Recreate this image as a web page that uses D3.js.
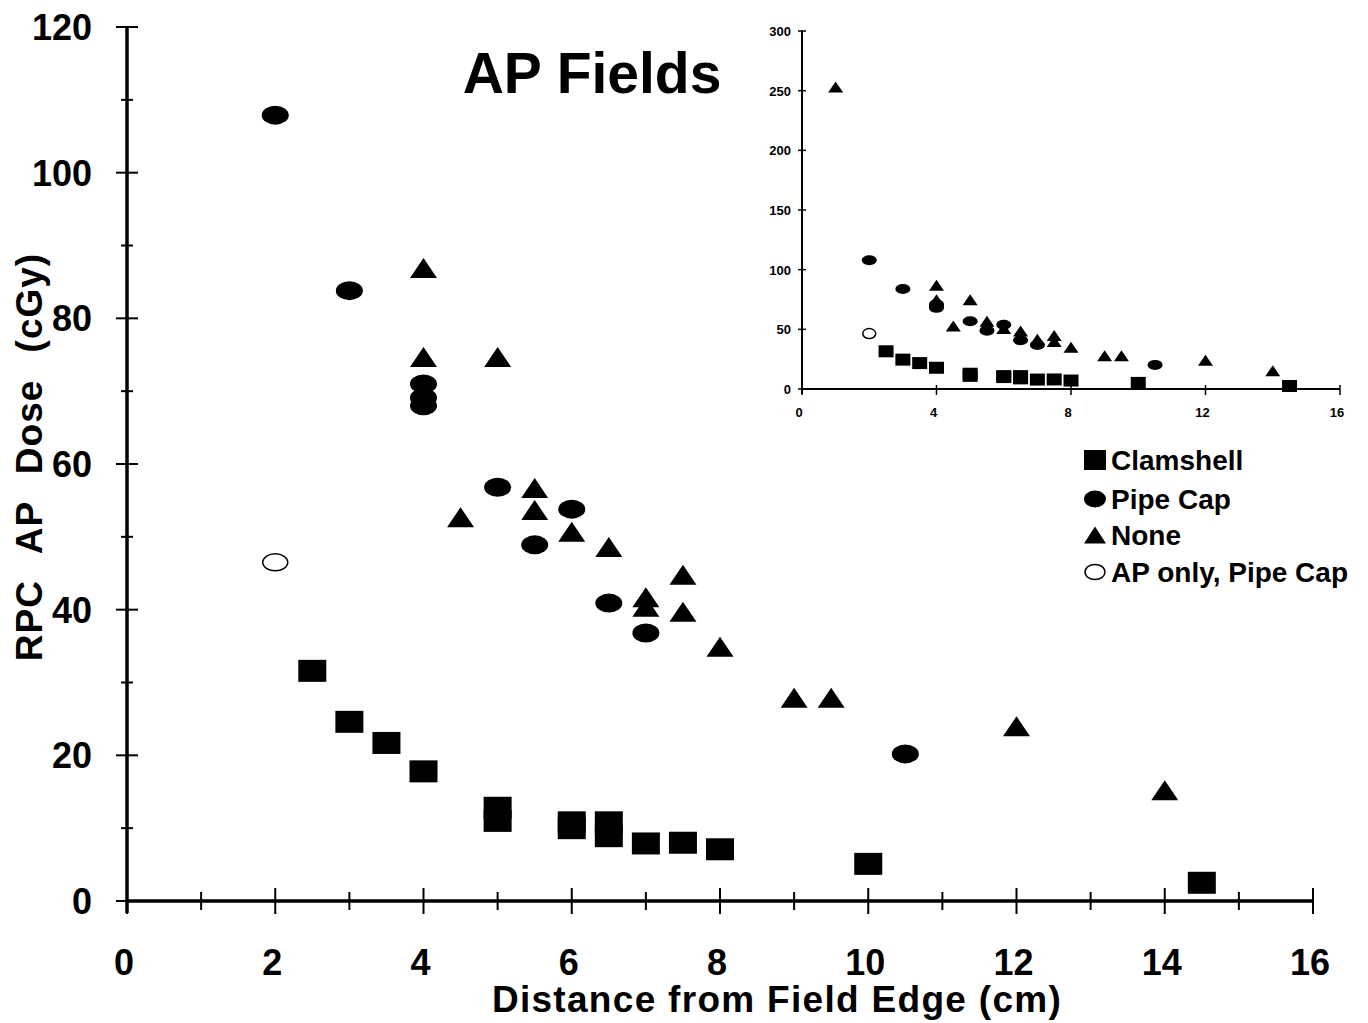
<!DOCTYPE html>
<html>
<head>
<meta charset="utf-8">
<script src="https://cdn.jsdelivr.net/npm/d3@7"></script>
<style>
  body { margin: 0; background: #fff; }
  text { font-family: "Liberation Sans", Arial, sans-serif; font-weight: bold; fill: #000; }
</style>
</head>
<body>
<div id="chart"></div>
<script>
// Data (distance in cm, dose in cGy)
const clamX = [2.5, 3, 3.5, 4, 5, 5, 6, 6, 6.5, 6.5, 7, 7.5, 8, 10, 14.5];
const clamY = [31.6, 24.6, 21.7, 17.8, 12.8, 11.0, 10.8, 10.0, 10.8, 8.9, 7.9, 8.0, 7.1, 5.1, 2.5];
const pipeX = [2, 3, 4, 4, 4, 5, 5.5, 6, 6.5, 7, 10.5];
const pipeY = [107.9, 83.8, 71.0, 69.1, 68.0, 56.8, 48.9, 53.8, 40.9, 36.8, 20.2];
const noneX = [1, 4, 4, 5, 4.5, 5.5, 5.5, 6, 6.5, 7.5, 7, 7, 7.5, 8, 9, 9.5, 12, 14];
const noneY = [253, 86.9, 74.7, 74.7, 52.7, 56.7, 53.7, 50.7, 48.6, 44.8, 41.7, 40.4, 39.7, 34.9, 27.9, 27.9, 24.0, 15.2];
const apOnlyX = [2];
const apOnlyY = [46.5];

const legendLabels = ["Clamshell", "Pipe Cap", "None", "AP only, Pipe Cap"];
const xTicks = [0, 2, 4, 6, 8, 10, 12, 14, 16];
const yTicks = [0, 20, 40, 60, 80, 100, 120];
const insetXTicks = [0, 4, 8, 12, 16];
const insetYTicks = [0, 50, 100, 150, 200, 250, 300];

const zip = (xs, ys) => xs.map((x, i) => ({ x: x, y: ys[i] }));
const series = [
  { name: legendLabels[0], shape: "square", pts: zip(clamX, clamY) },
  { name: legendLabels[1], shape: "circle", pts: zip(pipeX, pipeY) },
  { name: legendLabels[2], shape: "triangle", pts: zip(noneX, noneY) },
  { name: legendLabels[3], shape: "open", pts: zip(apOnlyX, apOnlyY) }
];

const width = 1368, height = 1023;
const svg = d3.select('#chart').append('svg')
  .attr('width', width)
  .attr('height', height);
svg.append('rect').attr('width', width).attr('height', height).attr('fill', '#fff');

// draw one marker of given shape, w x h, centred on (cx, cy)
function marker(g, shape, cx, cy, w, h) {
  if (shape === "square") {
    g.append('rect').attr('x', cx - w / 2).attr('y', cy - h / 2)
      .attr('width', w).attr('height', h).attr('fill', '#000');
  } else if (shape === "circle") {
    g.append('ellipse').attr('cx', cx).attr('cy', cy)
      .attr('rx', w / 2).attr('ry', h / 2).attr('fill', '#000');
  } else if (shape === "triangle") {
    const p = d3.path();
    p.moveTo(cx, cy - h / 2);
    p.lineTo(cx + w / 2, cy + h / 2);
    p.lineTo(cx - w / 2, cy + h / 2);
    p.closePath();
    g.append('path').attr('d', p.toString()).attr('fill', '#000');
  } else {
    g.append('ellipse').attr('cx', cx).attr('cy', cy)
      .attr('rx', w / 2 - 1).attr('ry', h / 2 - 1)
      .attr('fill', '#fff').attr('stroke', '#000').attr('stroke-width', 1.5);
  }
}

const markSize = {
  square: [28, 22], circle: [27, 19], triangle: [27, 20], open: [27, 19]
};

// ---- main chart ----
const x = d3.scaleLinear().domain([0, 16]).range([127, 1313]);
const y = d3.scaleLinear().domain([0, 120]).range([901, 27]);

const axes = svg.append('g');
// x axis line + ticks (crossing)
axes.append('line').attr('x1', x(0)).attr('x2', x(16)).attr('y1', y(0)).attr('y2', y(0))
  .attr('stroke', '#000').attr('stroke-width', 3.5);
d3.range(0, 17).forEach(v => {
  const major = v % 2 === 0;
  const len = major ? 13 : 9;
  axes.append('line').attr('x1', x(v)).attr('x2', x(v))
    .attr('y1', y(0) - len).attr('y2', y(0) + len)
    .attr('stroke', '#000').attr('stroke-width', 2);
});
axes.append('line').attr('x1', x(0)).attr('x2', x(0)).attr('y1', y(0) + 12).attr('y2', y(120))
  .attr('stroke', '#000').attr('stroke-width', 3.5);
d3.range(0, 121, 10).forEach(v => {
  const major = v % 20 === 0;
  const len = major ? 11 : 6;
  axes.append('line').attr('x1', x(0) - len).attr('x2', x(0) + len)
    .attr('y1', y(v)).attr('y2', y(v))
    .attr('stroke', '#000').attr('stroke-width', 2);
});

axes.selectAll('.xl').data(xTicks).enter().append('text')
  .attr('x', d => x(d) - 3).attr('y', 975)
  .attr('text-anchor', 'middle').attr('font-size', 36)
  .text(d => d);
axes.selectAll('.yl').data(yTicks).enter().append('text')
  .attr('x', 92).attr('y', d => y(d) + 13)
  .attr('text-anchor', 'end').attr('font-size', 36)
  .text(d => d);

svg.append('text').attr('x', 777).attr('y', 1012)
  .attr('text-anchor', 'middle').attr('font-size', 37)
  .attr('letter-spacing', 1.3)
  .text('Distance from Field Edge (cm)');
svg.append('text')
  .attr('transform', 'translate(42,457) rotate(-90)')
  .attr('text-anchor', 'middle').attr('font-size', 37)
  .attr('letter-spacing', 1).attr('word-spacing', 16)
  .text('RPC AP Dose (cGy)');

svg.append('text').attr('x', 592).attr('y', 93)
  .attr('text-anchor', 'middle').attr('font-size', 57)
  .text('AP Fields');

const plot = svg.append('g');
series.forEach(s => {
  s.pts.filter(p => p.y <= 120).forEach(p => {
    const [w, h] = markSize[s.shape];
    marker(plot, s.shape, x(p.x), y(p.y), w, h);
  });
});

// ---- inset ----
const ix = d3.scaleLinear().domain([0, 16]).range([802, 1340]);
const iy = d3.scaleLinear().domain([0, 300]).range([389, 31]);
const inset = svg.append('g');
inset.append('line').attr('x1', ix(0)).attr('x2', ix(16)).attr('y1', iy(0)).attr('y2', iy(0))
  .attr('stroke', '#000').attr('stroke-width', 2);
inset.append('line').attr('x1', ix(0)).attr('x2', ix(0)).attr('y1', iy(0) + 5).attr('y2', iy(300))
  .attr('stroke', '#000').attr('stroke-width', 2);
insetXTicks.forEach(v => {
  inset.append('line').attr('x1', ix(v)).attr('x2', ix(v))
    .attr('y1', iy(0) - (v === 0 ? 0 : 4)).attr('y2', iy(0) + 6)
    .attr('stroke', '#000').attr('stroke-width', 1.5);
});
insetYTicks.forEach(v => {
  inset.append('line').attr('x1', ix(0) - 4).attr('x2', ix(0) + 4)
    .attr('y1', iy(v)).attr('y2', iy(v))
    .attr('stroke', '#000').attr('stroke-width', 1.5);
});
inset.selectAll('.ixl').data(insetXTicks).enter().append('text')
  .attr('x', d => ix(d) - 3).attr('y', 417)
  .attr('text-anchor', 'middle').attr('font-size', 13)
  .text(d => d);
inset.selectAll('.iyl').data(insetYTicks).enter().append('text')
  .attr('x', 791).attr('y', d => iy(d) + 5)
  .attr('text-anchor', 'end').attr('font-size', 13)
  .text(d => d);

const insetSize = {
  square: [15, 12], circle: [15, 10], triangle: [15, 11], open: [15, 12]
};
series.forEach(s => {
  s.pts.forEach(p => {
    const [w, h] = insetSize[s.shape];
    marker(inset, s.shape, ix(p.x), iy(p.y), w, h);
  });
});

// ---- legend ----
const legend = svg.append('g');
const legendY = [460, 499, 535, 572];
series.forEach((s, i) => {
  const sz = s.shape === "square" ? [22, 20] : [22, 17];
  marker(legend, s.shape, 1095, legendY[i], sz[0], sz[1]);
  legend.append('text').attr('x', 1111).attr('y', legendY[i] + 10)
    .attr('font-size', 28).text(s.name);
});
</script>
</body>
</html>
